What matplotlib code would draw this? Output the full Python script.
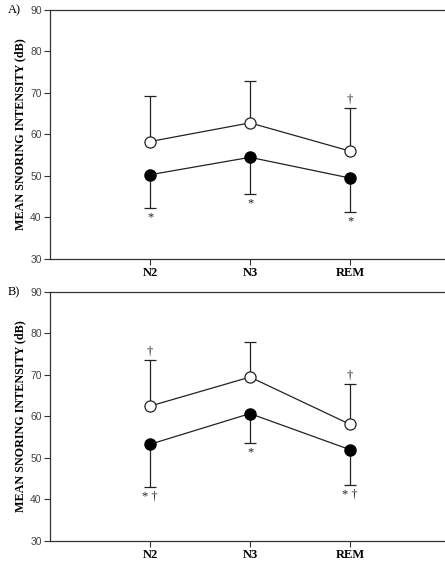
import matplotlib

matplotlib.use("Agg")
import matplotlib.pyplot as plt
import numpy as np

STAGES = ["N2", "N3", "REM"]

# panel A
a_open = [58.3, 62.8, 56.0]
a_open_up = [69.2, 73.0, 66.5]
a_fill = [50.3, 54.5, 49.5]
a_fill_lo = [42.2, 45.7, 41.3]
a_marks_lo = ["*", "*", "*"]
a_marks_hi = ["", "", "†"]

# panel B
b_open = [62.5, 69.5, 58.1]
b_open_up = [73.6, 78.0, 67.9]
b_fill = [53.3, 60.7, 52.0]
b_fill_lo = [43.0, 53.5, 43.5]
b_marks_lo = ["* †", "*", "* †"]
b_marks_hi = ["†", "", "†"]

SERIF = "Liberation Serif"
SANS = "Liberation Sans"
INK = "#222222"
CAP = 0.06  # half cap width, in x data units


def panel(ax, label, opn, opn_up, fil, fil_lo, marks_lo, marks_hi):
    x = np.arange(1, len(STAGES) + 1)

    # one-sided error bars: open circles up, filled circles down
    ax.vlines(x, opn, opn_up, color=INK, lw=0.9, zorder=2)
    ax.hlines(opn_up, x - CAP, x + CAP, color=INK, lw=0.9, zorder=2)
    ax.vlines(x, fil_lo, fil, color=INK, lw=0.9, zorder=2)
    ax.hlines(fil_lo, x - CAP, x + CAP, color=INK, lw=0.9, zorder=2)

    ax.plot(x, opn, "-o", color=INK, lw=0.9, ms=8, mfc="white",
            mec=INK, mew=0.9, zorder=3)
    ax.plot(x, fil, "-o", color=INK, lw=0.9, ms=8, mfc="black",
            mec="black", zorder=3)

    for xi, lo, m in zip(x, fil_lo, marks_lo):
        if m:
            ax.text(xi, lo - 0.8, m, ha="center", va="top", fontsize=9,
                    family=SERIF, color=INK)
    for xi, hi, m in zip(x, opn_up, marks_hi):
        if m:
            ax.text(xi, hi + 0.6, m, ha="center", va="bottom", fontsize=9,
                    family=SERIF, color=INK)

    ax.set_xlim(0, 4)
    ax.set_ylim(30, 90)
    ax.set_yticks(range(30, 91, 10))
    ax.set_xticks(x)
    ax.set_xticklabels(STAGES, family=SERIF, fontweight="bold", fontsize=9)
    for t in ax.get_yticklabels():
        t.set_family(SANS)
        t.set_fontsize(7.5)
        t.set_color("#444444")
    ax.tick_params(direction="out", length=4, width=0.8, color="#333333")
    ax.tick_params(axis="x", pad=2)
    ax.tick_params(axis="y", pad=2)
    ax.spines["right"].set_visible(False)
    for s in ["left", "bottom", "top"]:
        ax.spines[s].set_linewidth(0.9)
        ax.spines[s].set_color("#333333")
    ax.set_ylabel("MEAN SNORING INTENSITY (dB)", family=SERIF, fontweight="bold",
                  fontsize=8.7, labelpad=3)
    ax.text(-0.105, 1.0, label, transform=ax.transAxes, ha="left", va="center",
            family=SERIF, fontsize=9)


def main():
    fig = plt.figure(figsize=(4.45, 5.64), dpi=100)
    fig.patch.set_facecolor("white")
    ax1 = fig.add_axes([0.1124, 0.5408, 0.8989, 0.4415])
    ax2 = fig.add_axes([0.1124, 0.0408, 0.8989, 0.4415])
    panel(ax1, "A)", a_open, a_open_up, a_fill, a_fill_lo, a_marks_lo, a_marks_hi)
    panel(ax2, "B)", b_open, b_open_up, b_fill, b_fill_lo, b_marks_lo, b_marks_hi)
    fig.savefig("out.png", dpi=100, facecolor="white")


if __name__ == "__main__":
    main()
